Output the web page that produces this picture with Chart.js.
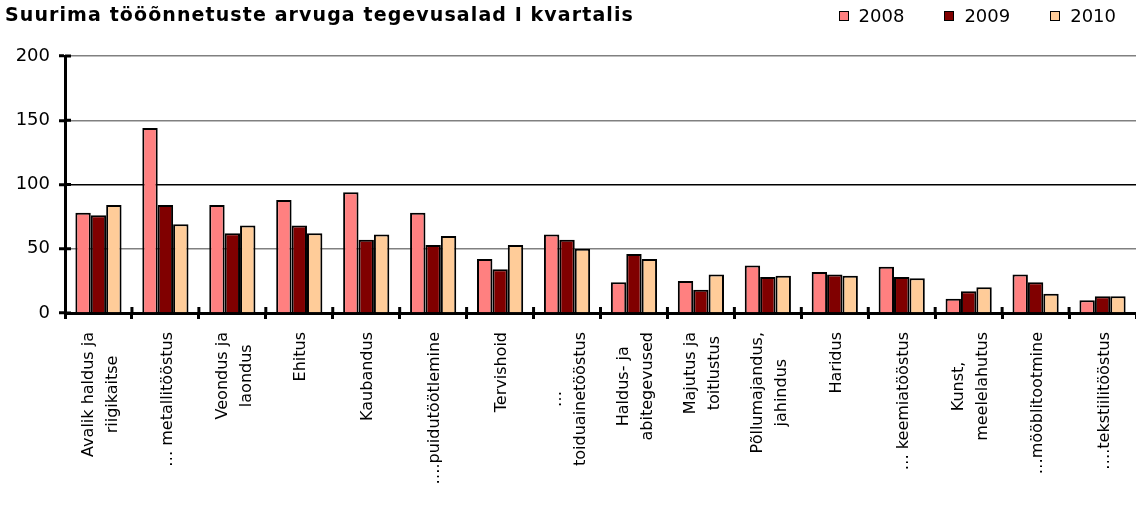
<!DOCTYPE html>
<html>
<head>
<meta charset="utf-8">
<script src="https://cdn.jsdelivr.net/npm/chart.js@4"></script>
<style>
  body { margin: 0; background: #ffffff; }
  #wrap { position: relative; width: 1136px; height: 517px; }
  #title {
    position: absolute; left: 5px; top: 3px;
    font: bold 19px "DejaVu Sans", Verdana, sans-serif;
    letter-spacing: 1.1px;
    color: #000;
  }
  #legend {
    position: absolute; right: 20px; top: 5px;
    display: flex; gap: 40px;
    font: 18px "DejaVu Sans", Verdana, sans-serif;
    color: #000;
  }
  #legend .item { display: flex; align-items: center; }
  #legend .box {
    display: inline-block; width: 8px; height: 8px;
    border: 1px solid #000; margin-right: 10px;
  }
</style>
</head>
<body>
<div id="wrap">
  <canvas id="chart"></canvas>
  <div id="title">Suurima tööõnnetuste arvuga tegevusalad I kvartalis</div>
  <div id="legend"></div>
</div>
<script>
const categories = [
    ["Avalik haldus ja", "riigikaitse"],
    "… metallitööstus",
    ["Veondus ja", "laondus"],
    "Ehitus",
    "Kaubandus",
    "….puidutöötlemine",
    "Tervishoid",
    ["…", "toiduainetööstus"],
    ["Haldus- ja", "abitegevused"],
    ["Majutus ja", "toitlustus"],
    ["Põllumajandus,", "jahindus"],
    "Haridus",
    "… keemiatööstus",
    ["Kunst,", "meelelahutus"],
    "…mööblitootmine",
    "….tekstiilitööstus"
];

const years = ["2008", "2009", "2010"];
const colors = ["#FF8080", "#800000", "#FFCC99"];

const values2008 = [78, 144, 84, 88, 94, 78, 42, 61, 24, 25, 37, 32, 36, 11, 30, 10];
const values2009 = [76, 84, 62, 68, 57, 53, 34, 57, 46, 18, 28, 30, 28, 17, 24, 13];
const values2010 = [84, 69, 68, 62, 61, 60, 53, 50, 42, 30, 29, 29, 27, 20, 15, 13];

const yTicks = [0, 50, 100, 150, 200];

const FONT = "'DejaVu Sans', Verdana, sans-serif";

// legend as html so it sits on the title line
const legend = document.getElementById("legend");
years.forEach((y, i) => {
    legend.innerHTML += `<span class="item"><span class="box" style="background:${colors[i]}"></span>${y}</span>`;
});

// category labels: rotated, lines centred on each other
const xLabels = {
    id: "xLabels",
    afterDraw(chart) {
        const x = chart.scales.x;
        const c = chart.ctx;
        c.save();
        c.font = "16px " + FONT;
        c.fillStyle = "#000";
        c.textAlign = "center";
        c.textBaseline = "middle";
        categories.forEach((lab, i) => {
            const lines = Array.isArray(lab) ? lab : [lab];
            const w = Math.max(...lines.map(l => c.measureText(l).width));
            const cx = x.getPixelForValue(i) + 2;
            const cy = x.top + 19 + w / 2;
            lines.forEach((l, j) => {
                const off = (j - (lines.length - 1) / 2) * 24;
                c.save();
                c.translate(cx + off, cy);
                c.rotate(-Math.PI / 2);
                c.fillText(l, 0, 0);
                c.restore();
            });
        });
        c.restore();
    }
};

// small tick marks poking into the plot area
const innerTicks = {
    id: "innerTicks",
    afterDraw(chart) {
        const c = chart.ctx;
        const x = chart.scales.x;
        const y = chart.scales.y;
        c.save();
        c.strokeStyle = "#000";
        c.lineWidth = 3;
        yTicks.forEach(v => {
            const py = y.getPixelForValue(v);
            c.beginPath();
            c.moveTo(y.right, py);
            c.lineTo(y.right + 6, py);
            c.stroke();
        });
        for (let i = 1; i < categories.length; i++) {
            const px = (x.getPixelForValue(i - 1) + x.getPixelForValue(i)) / 2;
            c.beginPath();
            c.moveTo(px, x.top);
            c.lineTo(px, x.top - 6);
            c.stroke();
        }
        c.restore();
    }
};

const ctx = document.getElementById("chart").getContext("2d");

new Chart(ctx, {
    type: "bar",
    data: {
        labels: categories,
        datasets: [values2008, values2009, values2010].map((vals, i) => ({
            label: years[i],
            data: vals,
            backgroundColor: colors[i],
            borderColor: "#000000",
            borderWidth: 2,
            barPercentage: 1,
            categoryPercentage: 0.69
        }))
    },
    options: {
        responsive: true,
        maintainAspectRatio: false,
        animation: false,
        layout: { padding: { top: 56, right: 0, left: 0, bottom: 0 } },
        plugins: {
            title: { display: false },
            tooltip: { enabled: false },
            legend: { display: false }
        },
        scales: {
            x: {
                afterFit(scale) { scale.height = 204; },
                border: { color: "#000", width: 3 },
                grid: {
                    offset: true,
                    drawOnChartArea: false,
                    drawTicks: true,
                    tickLength: 6,
                    tickColor: "#000",
                    tickWidth: 3
                },
                ticks: { display: false }
            },
            y: {
                min: 0,
                max: 200,
                afterFit(scale) { scale.width = 65; },
                afterBuildTicks(scale) {
                    scale.ticks = yTicks.map(v => ({ value: v }));
                },
                border: { color: "#000", width: 3 },
                grid: {
                    color: c => c.tick && c.tick.value === 100 ? "#000000" : "#808080",
                    lineWidth: 1.5,
                    tickColor: "#000",
                    tickLength: 6,
                    tickWidth: 3
                },
                ticks: {
                    color: "#000",
                    font: { family: FONT, size: 18 },
                    padding: 9
                }
            }
        }
    },
    plugins: [innerTicks, xLabels]
});
</script>
</body>
</html>
